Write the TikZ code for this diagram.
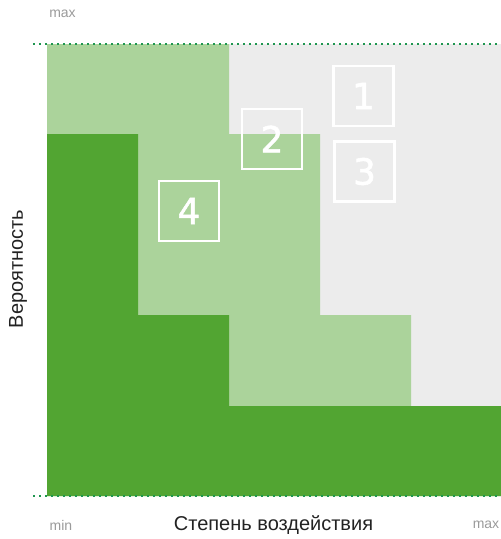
\documentclass[tikz,border=0pt]{standalone}
\usepackage{fontspec}
\setmainfont{Liberation Sans}
\newfontfamily\digitfont[FakeBold=1.6]{DejaVu Sans}
\definecolor{bggray}{HTML}{ECECEC}
\definecolor{lgreen}{HTML}{ABD39B}
\definecolor{dgreen}{HTML}{52A532}
\definecolor{dotgreen}{HTML}{1E9650}
\definecolor{lblgray}{HTML}{9A9A9A}
\definecolor{txtdark}{HTML}{222222}
\tikzset{
  numbox/.style={draw=white, line width=2.8pt, minimum width=60pt, minimum height=60pt, inner sep=0pt, text=white, font=\digitfont\fontsize{36}{36}\selectfont},
  small/.style={text=lblgray, font=\fontsize{14}{14}\selectfont},
  axis/.style={text=txtdark, font=\fontsize{20}{20}\selectfont},
  guide/.style={dotgreen, line width=1.6pt, dash pattern=on 1.6pt off 4.4pt}
}
\begin{document}
\begin{tikzpicture}[x=1pt,y=-1pt]
\useasboundingbox (0,0) rectangle (501,539);
\fill[bggray] (47,44) rectangle (501,496);
\fill[lgreen] (47,44) -- (229,44) -- (229,134) -- (320,134) -- (320,315) -- (411,315) -- (411,406) -- (501,406) -- (501,496) -- (47,496) -- cycle;
\fill[dgreen] (47,134) -- (138,134) -- (138,315) -- (229,315) -- (229,406) -- (501,406) -- (501,496) -- (47,496) -- cycle;
\coordinate (tl) at (33,44);
\coordinate (tr) at (501,44);
\coordinate (bl) at (33,496);
\coordinate (br) at (501,496);
\draw[guide] (tl) -- (tr);
\draw[guide] (bl) -- (br);
\node[numbox] (b1) at (363.5,96) {1};
\node[numbox] (b3) at (364.5,171.5) {3};
\node[numbox] (b2) at (272,139) {2};
\node[numbox] (b4) at (189,211) {4};
\node[small] (ymax) at (62.5,14) {max};
\node[small] (xmin) at (61,525) {min};
\node[small] (xmax) at (486,525) {max};
\node[axis] (xl) at (273.5,525) {Степень воздействия};
\node[axis, rotate=90] (yl) at (18,269) {Вероятность};
\end{tikzpicture}
\end{document}
